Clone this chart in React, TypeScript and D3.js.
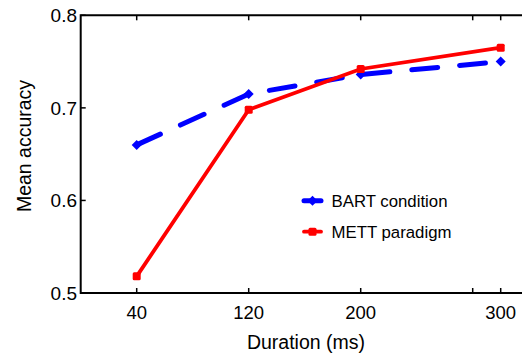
import React from "react";
import * as d3 from "d3";

const durations = [40, 120, 200, 300];
const bartValues = [0.66, 0.715, 0.736, 0.75];
const mettValues = [0.518, 0.698, 0.742, 0.765];
const xTicks = [40, 120, 200, 280, 300];
const xTickLabels = ["40", "120", "200", "", "300"];
const yTicks = [0.5, 0.6, 0.7, 0.8];
const seriesNames = ["BART condition", "METT paradigm"];

const W = 522;
const H = 354;
const left = 80.7;
const top = 15.3;
const bottom = 293;
const FONT = "Liberation Sans, Arial, sans-serif";

export default function App() {
  const x = d3.scaleLinear().domain([0, 320]).range([left, left + 1.4 * 320]);
  const y = d3.scaleLinear().domain([0.5, 0.8]).range([bottom, top]);
  const line = d3
    .line<[number, number]>()
    .x((d) => x(d[0]))
    .y((d) => y(d[1]));
  const bartPts = durations.map((d, i) => [d, bartValues[i]] as [number, number]);
  const mettPts = durations.map((d, i) => [d, mettValues[i]] as [number, number]);
  const right = x(320);
  const diamond = (cx: number, cy: number, r: number) =>
    `M${cx},${cy - r}L${cx + r},${cy}L${cx},${cy + r}L${cx - r},${cy}Z`;

  return (
    <svg
      width={W}
      height={H}
      style={{ position: "fixed", left: 0, top: 0, background: "#fff" }}
    >
      <rect x={0} y={0} width={W} height={H} fill="#fff" />
      {/* series */}
      <path
        d={line(bartPts) || ""}
        fill="none"
        stroke="#0000ff"
        strokeWidth={5}
        strokeDasharray="26 22"
        strokeLinecap="round"
      />
      {bartPts.map((p, i) => (
        <path key={"b" + i} d={diamond(x(p[0]), y(p[1]), 5)} fill="#0000ff" />
      ))}
      <path d={line(mettPts) || ""} fill="none" stroke="#ff0000" strokeWidth={3.8} />
      {mettPts.map((p, i) => (
        <rect
          key={"m" + i}
          x={x(p[0]) - 4}
          y={y(p[1]) - 4}
          width={8}
          height={8}
          rx={1.5}
          fill="#ff0000"
        />
      ))}
      {/* axes frame */}
      <path
        d={`M${right},${top}H${left}V${bottom}H${right}`}
        fill="none"
        stroke="#000"
        strokeWidth={2}
      />
      {xTicks.map((t, i) => (
        <g key={"xt" + i}>
          <line x1={x(t)} x2={x(t)} y1={bottom} y2={bottom - 5} stroke="#000" strokeWidth={1.5} />
          <line x1={x(t)} x2={x(t)} y1={top} y2={top + 5} stroke="#000" strokeWidth={1.5} />
          <text
            x={x(t)}
            y={318.5}
            textAnchor="middle"
            fontFamily={FONT}
            fontSize={18.5}
            fill="#000"
          >
            {xTickLabels[i]}
          </text>
        </g>
      ))}
      {yTicks.map((t, i) => (
        <g key={"yt" + i}>
          <line x1={left} x2={left + 5} y1={y(t)} y2={y(t)} stroke="#000" strokeWidth={1.5} />
          <text
            x={77}
            y={y(t)}
            dy="0.35em"
            textAnchor="end"
            fontFamily={FONT}
            fontSize={19}
            fill="#000"
          >
            {d3.format(".1f")(t)}
          </text>
        </g>
      ))}
      <text
        x={306}
        y={349}
        textAnchor="middle"
        fontFamily={FONT}
        fontSize={19.5}
        fill="#000"
      >
        Duration (ms)
      </text>
      <text
        transform={`translate(31,146) rotate(-90)`}
        textAnchor="middle"
        fontFamily={FONT}
        fontSize={19.5}
        fill="#000"
      >
        Mean accuracy
      </text>
      {/* legend */}
      {seriesNames.map((name, i) => {
        const ly = 200.7 + i * 31;
        const color = i === 0 ? "#0000ff" : "#ff0000";
        return (
          <g key={"lg" + i}>
            <line
              x1={304}
              x2={321}
              y1={ly}
              y2={ly}
              stroke={color}
              strokeWidth={i === 0 ? 5 : 3.8}
              strokeLinecap="round"
            />
            {i === 0 ? (
              <path d={diamond(312.5, ly, 5)} fill={color} />
            ) : (
              <rect x={308.5} y={ly - 4} width={8} height={8} rx={1.5} fill={color} />
            )}
            <text
              x={331.5}
              y={ly}
              dy="0.35em"
              fontFamily={FONT}
              fontSize={16.8}
              fill="#000"
            >
              {name}
            </text>
          </g>
        );
      })}
    </svg>
  );
}
